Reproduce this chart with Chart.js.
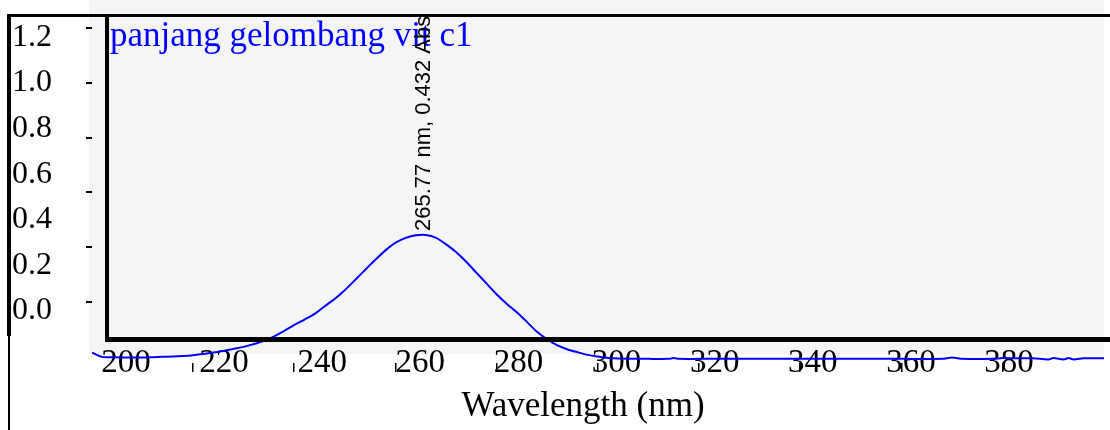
<!DOCTYPE html>
<html><head><meta charset="utf-8">
<script src="https://cdn.jsdelivr.net/npm/chart.js@4.4.1/dist/chart.umd.min.js"></script>
<style>html,body{margin:0;padding:0;background:#fff;}#wrap{width:1110px;height:430px;}</style>
</head><body><div id="wrap"><canvas id="c" width="1110" height="430"></canvas></div>
<script>
// ---------- data ----------
const wavelengths = [200,202,204,206,208,210,212,214,216,218,220,222,224,226,228,230,232,234,236,238,240,242,244,246,248,250,252,254,256,258,260,262,264,266,268,270,272,274,276,278,280,282,284,286,288,290,292,294,296,298,300,302,304,310,314,315,316,320,330,340,350,360,368,370,372,378,380,382,386,389,390,392,393,394,396,400];
const absorbance  = [0.019,0.004,0.003,0.002,0.002,0.002,0.003,0.004,0.005,0.007,0.010,0.014,0.019,0.025,0.032,0.039,0.049,0.060,0.076,0.095,0.116,0.135,0.155,0.182,0.208,0.239,0.274,0.310,0.345,0.378,0.405,0.422,0.431,0.432,0.422,0.399,0.371,0.337,0.299,0.261,0.223,0.190,0.160,0.126,0.091,0.065,0.044,0.030,0.020,0.011,0.005,0.000,-0.002,-0.003,-0.003,0.000,-0.003,-0.003,-0.003,-0.003,-0.003,-0.003,-0.003,0.002,-0.003,-0.003,0.000,-0.001,-0.001,-0.005,0.000,-0.005,0.000,-0.005,-0.001,-0.001];
const xTickLabels = [200,220,240,260,280,300,320,340,360,380];
const yTickLabels = [0.0,0.2,0.4,0.6,0.8,1.0,1.2];
const yDashTicks  = [0.2,0.4,0.6,0.8,1.0,1.2];
const peakWavelength = 265.77;
const peakAbs = 0.432;
const seriesLabel = 'panjang gelombang vit c1';
const xTitle = 'Wavelength (nm)';

// ---------- layout ----------
const AREA = {left:107, top:15, right:1059, bottom:339};
function span(pA, vA, pB, vB, lo, hi){ const k=(vB-vA)/(pB-pA); return [vA+(lo-pA)*k, vA+(hi-pA)*k]; }
const xr  = span(92,200,1104,400, AREA.left, AREA.right);
const yr  = span(358,0,235,0.432, AREA.bottom, AREA.top);
const x2r = span(126,200,1009,380, AREA.left, AREA.right);
const y2r = span(311,0,37.5,1.2, AREA.bottom, AREA.top);
const ydr = span(302,0.2,28,1.2, AREA.bottom, AREA.top);
const SERIF = '"Liberation Serif", "Times New Roman", serif';
function noPad(sc){ sc.paddingLeft=0; sc.paddingRight=0; sc.paddingTop=0; sc.paddingBottom=0; }

const decor = {
  id:'decor',
  beforeDraw(chart){
    const c=chart.ctx; c.save();
    c.fillStyle='#ffffff'; c.fillRect(0,0,1110,430);
    c.fillStyle='#f5f5f5'; c.fillRect(89,0,1015,354);
    c.restore();
  },
  afterDatasetsDraw(chart){
    const c=chart.ctx, s=chart.scales; c.save();
    c.fillStyle='#000';
    // frame
    c.fillRect(7,14,1103,3);
    c.fillRect(7,14,4,322);
    c.fillRect(8,336,2,94);
    c.fillRect(105,14,4,328);
    c.fillRect(105,337,1005,5);
    // y dashes
    yDashTicks.forEach(v=>{ const y=s.yd.getPixelForValue(v); c.fillRect(86,Math.round(y)-1,6,2); });
    // small x tick marks of the spectrum axis
    xTickLabels.filter(v=>v>200).forEach(v=>{ const x=s.x.getPixelForValue(v); c.fillRect(Math.round(x)-1,363,1.5,9); });
    // series label
    c.fillStyle='#0000ff'; c.font='35px '+SERIF; c.textBaseline='alphabetic'; c.textAlign='left';
    c.fillText(chart.data.datasets[0].label,110,46);
    // peak annotation
    const px=s.x.getPixelForValue(peakWavelength), py=s.y.getPixelForValue(peakAbs);
    c.fillStyle='#000'; c.font='22px "Liberation Sans", Arial, sans-serif';
    c.translate(px-1,py-4); c.rotate(-Math.PI/2); c.textAlign='left'; c.textBaseline='middle';
    c.fillText(peakWavelength+' nm, '+peakAbs+' Abs',0,0);
    c.restore();
  }
};

new Chart(document.getElementById('c'),{
  type:'line',
  data:{datasets:[{
    label:seriesLabel,
    data:wavelengths.map((w,i)=>({x:w,y:absorbance[i]})),
    borderColor:'#0000ff', borderWidth:2, pointRadius:0, tension:0.3,
    clip:false, xAxisID:'x', yAxisID:'y', fill:false
  }]},
  options:{
    responsive:false, animation:false, devicePixelRatio:1,
    layout:{padding:{top:AREA.top,right:1110-AREA.right,left:0,bottom:0}},
    plugins:{legend:{display:false},tooltip:{enabled:false}},
    scales:{
      x:{type:'linear',display:false,bounds:'data',afterDataLimits(sc){ sc.min=xr[0]; sc.max=xr[1]; }},
      y:{type:'linear',display:false,bounds:'data',afterDataLimits(sc){ sc.min=yr[0]; sc.max=yr[1]; }},
      yd:{type:'linear',display:false,position:'left',min:ydr[0],max:ydr[1]},
      x2:{type:'linear',position:'bottom',min:x2r[0],max:x2r[1],
        afterBuildTicks(sc){ sc.ticks=xTickLabels.map(v=>({value:v})); },
        afterFit(sc){ sc.height=430-AREA.bottom; noPad(sc); },
        grid:{display:false,drawTicks:false}, border:{display:false},
        ticks:{autoSkip:false,maxRotation:0,padding:5,color:'#000',font:{family:SERIF,size:33},callback:v=>String(v)},
        title:{display:true,text:xTitle,color:'#000',font:{family:SERIF,size:35},padding:{top:0,bottom:2}}
      },
      y2:{type:'linear',position:'left',min:y2r[0],max:y2r[1],
        afterBuildTicks(sc){ sc.ticks=yTickLabels.map(v=>({value:v})); },
        afterFit(sc){ sc.width=AREA.left; noPad(sc); },
        grid:{display:false,drawTicks:false}, border:{display:false},
        ticks:{autoSkip:false,padding:55,color:'#000',font:{family:SERIF,size:32},callback:v=>Number(v).toFixed(1)}
      }
    }
  },
  plugins:[decor]
});
</script></body></html>
